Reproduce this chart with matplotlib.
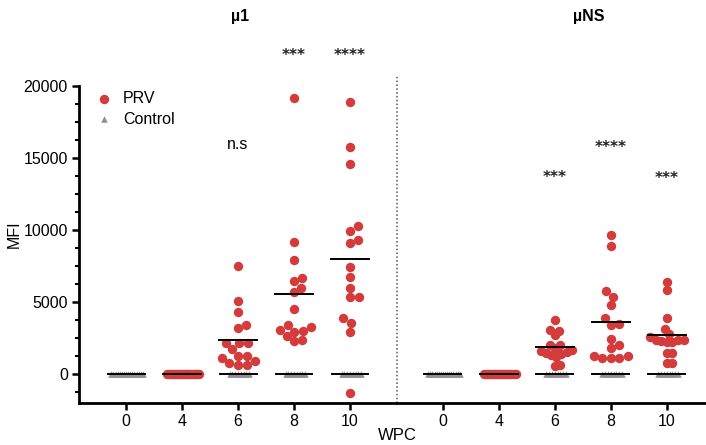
"""Anti-mu1 / anti-muNS MFI after challenge, PRV vs control (scatter + mean)."""

import numpy as np
import matplotlib

matplotlib.use("Agg")
import matplotlib.pyplot as plt
from matplotlib.ticker import MultipleLocator

plt.rcParams["font.family"] = ["Liberation Sans", "DejaVu Sans"]

WPC_LABELS = ["0", "4", "6", "8", "10"]

# PRV group values (weeks 4..10), per antigen
MU1_PRV = {
    "4": [0, 0, 0, 0, 0, 0, 0, 0, 0, 0, 0, 0, 0, 0, 0, 0],
    "6": [7490, 5070, 4335, 3390, 3180, 2190, 2165, 2140, 1730, 1245, 1245, 1100, 900, 760, 620, 620],
    "8": [19180, 9150, 7950, 6660, 6450, 5990, 5690, 4500, 3390, 3300, 3040, 2990, 2950, 2650, 2370, 2280],
    "10": [18880, 15790, 14610, 10300, 9960, 9340, 9100, 7420, 6760, 5990, 5370, 5350, 3920, 3570, 2950, -1290],
}
MUNS_PRV = {
    "4": [0, 0, 0, 0, 0, 0, 0, 0, 0, 0, 0, 0, 0, 0, 0, 0],
    "6": [3760, 3050, 3020, 2720, 2050, 2000, 1800, 1700, 1600, 1550, 1500, 1400, 1300, 1200, 620, 600],
    "8": [9660, 8920, 5760, 5370, 4770, 3920, 3460, 3440, 2470, 2030, 1840, 1245, 1110, 1110, 1110, 1245],
    "10": [6430, 5810, 3920, 3160, 2770, 2600, 2350, 2300, 2200, 2200, 2400, 2350, 1500, 1480, 810, 810],
}
# control animals sit on zero at every week
CONTROL_W0 = [0, 0, 0, 0, 0, 0, 0, 0, 0, 0, 0, 0, 0, 0, 0, 0]
CONTROL = [0, 0, 0, 0, 0, 0, 0, 0]

MU1_STARS = {"6": ("n.s", 15950), "8": ("***", 22250), "10": ("****", 22250)}
MUNS_STARS = {"6": ("***", 13800), "8": ("****", 15900), "10": ("***", 13700)}

RED = "#d43b3b"
GREY = "#909090"

# px per data unit (used only for the swarm layout)
PX_X = 56.0
PX_Y = 72.3 / 5000.0


def swarm_offsets(values, diam_px, max_half):
    vals = np.asarray(values, dtype=float)
    order = np.argsort(vals)
    placed = []
    offs = np.zeros(len(vals))
    for i in order:
        y = vals[i] * PX_Y
        best = None
        for k in range(0, 200):
            for cand in ([0.0] if k == 0 else [k * 0.5, -k * 0.5]):
                ok = all((cand - px) ** 2 + (y - py) ** 2 >= diam_px ** 2 for px, py in placed)
                if ok:
                    best = cand
                    break
            if best is not None:
                break
        placed.append((best, y))
        offs[i] = best / PX_X
    m = np.max(np.abs(offs))
    if m > max_half:
        offs *= max_half / m
    return offs


def draw_group(ax, x0, values, color, marker, size, diam, half, zorder):
    offs = swarm_offsets(values, diam, half)
    ax.scatter(x0 + offs, values, s=size, c=color, marker=marker, linewidths=0, zorder=zorder)


fig = plt.figure(figsize=(7.06, 4.45), dpi=100)
ax = fig.add_axes([0.112, 0.0944, 0.888, 0.7124])

left_pos = np.arange(5, dtype=float)
right_pos = left_pos + 5.66

for pos, prv in ((left_pos, MU1_PRV), (right_pos, MUNS_PRV)):
    for x0, lab in zip(pos, WPC_LABELS):
        ctrl = CONTROL_W0 if lab == "0" else CONTROL
        draw_group(ax, x0, ctrl, GREY, "^", 22, 5.5, 0.30 if lab == "0" else 0.2, 2)
        ax.plot([x0 - 0.33, x0 + 0.33], [np.mean(ctrl)] * 2, color="black", lw=1.4, zorder=3)
        if lab in prv:
            draw_group(ax, x0, prv[lab], RED, "o", 46, 9.0, 0.3, 4)
            ax.plot([x0 - 0.34, x0 + 0.34], [np.mean(prv[lab])] * 2, color="black", lw=1.4, zorder=5)

for pos, stars in ((left_pos, MU1_STARS), (right_pos, MUNS_STARS)):
    for x0, lab in zip(pos, WPC_LABELS):
        if lab in stars:
            txt, yv = stars[lab]
            if txt == "n.s":
                ax.text(x0, yv, txt, ha="center", va="center", fontsize=11.5, clip_on=False)
            else:
                ax.text(x0, yv - 150, txt, ha="center", va="center", fontsize=11,
                        family="DejaVu Sans", fontweight="bold", color="#222222", clip_on=False)

ax.axvline(4.84, ymin=0, ymax=1.03, color="#555555", lw=1.1, ls=(0, (1, 1.5)), clip_on=False)

ax.set_xlim(-0.84, 10.36)
ax.set_ylim(-2000, 20000)
ax.set_xticks(np.concatenate([left_pos, right_pos]))
ax.set_xticklabels(WPC_LABELS * 2)
ax.set_yticks([0, 5000, 10000, 15000, 20000])
ax.yaxis.set_minor_locator(MultipleLocator(1250))
ax.tick_params(axis="both", which="major", direction="out", length=5, width=1.8, labelsize=11.5, pad=3)
ax.tick_params(axis="y", which="minor", direction="out", length=3, width=1.5)
for side in ("top", "right"):
    ax.spines[side].set_visible(False)
for side in ("left", "bottom"):
    ax.spines[side].set_linewidth(2.0)

fig.text(14 / 706, 1 - 234 / 445, "MFI", ha="center", va="center", rotation=90, fontsize=11.5)
fig.text(397 / 706, 1 - 436 / 445, "WPC", ha="center", va="center", fontsize=12)

# legend drawn by hand to sit where the original one does
ax.scatter([0.04], [0.96], s=46, c=RED, marker="o", linewidths=0, transform=ax.transAxes, clip_on=False)
ax.scatter([0.04], [0.895], s=22, c=GREY, marker="^", linewidths=0, transform=ax.transAxes, clip_on=False)
ax.text(0.07, 0.96, "PRV", transform=ax.transAxes, va="center", fontsize=11.5)
ax.text(0.07, 0.895, "Control", transform=ax.transAxes, va="center", fontsize=11.5)

fig.text(240 / 706, 1 - 16 / 445, "µ1", ha="center", va="center", fontsize=11.5, fontweight="bold")
fig.text(589 / 706, 1 - 17 / 445, "µNS", ha="center", va="center", fontsize=11.5, fontweight="bold")

fig.savefig("out.png", dpi=100)
